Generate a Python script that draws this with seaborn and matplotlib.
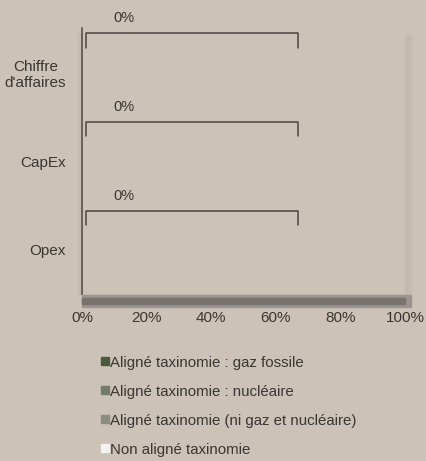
import numpy as np
import pandas as pd
import matplotlib.pyplot as plt
import seaborn as sns
from matplotlib.patches import Rectangle

# Data
categories = ["Chiffre\nd'affaires", "CapEx", "Opex"]
series_names = ["Aligné taxinomie : gaz fossile",
                "Aligné taxinomie : nucléaire",
                "Aligné taxinomie (ni gaz et nucléaire)",
                "Non aligné taxinomie"]
gaz_fossile = [0, 0, 0]
nucleaire = [0, 0, 0]
ni_gaz_ni_nucleaire = [0, 0, 0]
non_aligne = [0, 0, 0]
bracket_labels = ["0%", "0%", "0%"]
x_ticks = [0, 20, 40, 60, 80, 100]

colors = ["#4b5a3f", "#737b69", "#8a8c80", "#f4f1ee"]
bg = "#ccc2b8"
text_col = "#3a3633"

sns.set_style("white")
plt.rcParams['font.family'] = ['Liberation Sans Narrow', 'Liberation Sans', 'DejaVu Sans']
plt.rcParams['font.size'] = 11

fig = plt.figure(figsize=(4.27, 4.61), dpi=100, facecolor=bg)
ax = fig.add_axes([82 / 427, 1 - 294 / 461, 323 / 427, 266 / 461])
ax.set_facecolor(bg)

# stacked bars (all zero), last series drawn first so earlier ones sit on top
df = pd.DataFrame({"cat": categories, "s0": gaz_fossile, "s1": nucleaire,
                   "s2": ni_gaz_ni_nucleaire, "s3": non_aligne})
cols = ["s0", "s1", "s2", "s3"]
for i in reversed(range(len(cols))):
    left_sum = df[cols[: i + 1]].sum(axis=1)
    sns.barplot(x=left_sum, y=df["cat"], orient="h", color=colors[i],
                ax=ax, width=0.5, linewidth=0)

ax.set_xlim(0, 100)
ax.set_ylim(2.5, -0.5)
ax.set_xticks(x_ticks)
ax.set_xticklabels([f"{t}%" for t in x_ticks], color=text_col)
ax.tick_params(axis="y", colors=text_col, length=0, pad=11.5, labelsize=11)
ax.tick_params(axis="x", colors=text_col, length=0, pad=12, labelsize=11)
ax.set_xlabel("")
ax.set_ylabel("")
for lab in ax.get_yticklabels():
    lab.set_multialignment("center")
for s in ["top", "right", "bottom"]:
    ax.spines[s].set_visible(False)
ax.spines["left"].set_color("#5a524b")
ax.spines["left"].set_linewidth(1.2)
ax.spines["left"].set_zorder(5)

# 3D-ish walls and floor
ax.add_patch(Rectangle((1.0, 0.0), 0.02, 0.975, transform=ax.transAxes,
                       color="#c3bab2", clip_on=False, zorder=0))
ax.add_patch(Rectangle((-0.011, -0.005), 0.011, 0.985, transform=ax.transAxes,
                       color="#c3bab2", clip_on=False, zorder=0))
ax.add_patch(Rectangle((0.0, -0.048), 1.02, 0.045, transform=ax.transAxes,
                       color="#9c948e", clip_on=False, zorder=1))
ax.add_patch(Rectangle((0.0, -0.036), 1.0, 0.022, transform=ax.transAxes,
                       color="#77726d", clip_on=False, zorder=2))

# brackets with labels
for i, lab in enumerate(bracket_labels):
    top = i - 0.44
    bot = i - 0.28
    ax.plot([1.2, 1.2, 67, 67], [bot, top, top, bot], color="#4a4440",
            lw=1.1, clip_on=False, solid_joinstyle="round")
    ax.text(13, i - 0.61, lab, ha="center", va="center", color=text_col,
            fontsize=10.5)

# legend
handles = [Rectangle((0, 0), 1, 1, color=c) for c in colors]
fig.legend(handles, series_names, loc="upper left",
           bbox_to_anchor=(88 / 427, 1 - 342 / 461), frameon=False,
           handlelength=0.5, handleheight=0.5, handletextpad=0.1,
           labelspacing=1.0, labelcolor=text_col, fontsize=10.8)

fig.savefig("out.png", dpi=100, facecolor=bg)
